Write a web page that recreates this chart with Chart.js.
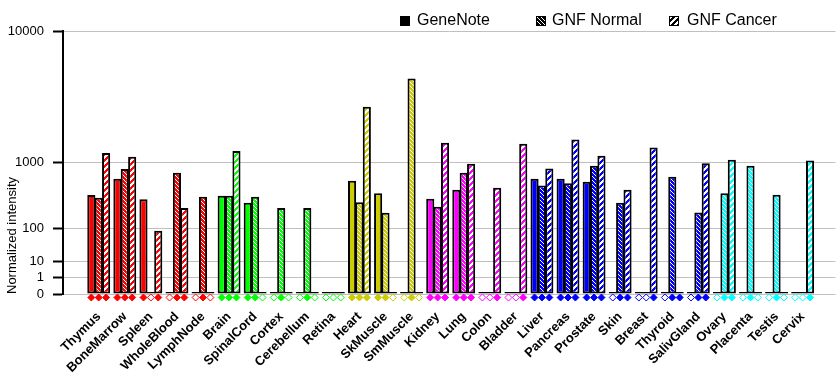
<!DOCTYPE html>
<html>
<head>
<meta charset="utf-8">
<script src="https://cdn.jsdelivr.net/npm/chart.js@4.4.1/dist/chart.umd.min.js"></script>
<style>
  body { margin: 0; background: #fff; }
  #wrap { width: 840px; height: 385px; }
</style>
</head>
<body>
<div id="wrap"><canvas id="chart"></canvas></div>
<script>
const tissues = ['Thymus', 'BoneMarrow', 'Spleen', 'WholeBlood', 'LymphNode',
  'Brain', 'SpinalCord', 'Cortex', 'Cerebellum', 'Retina',
  'Heart', 'SkMuscle', 'SmMuscle',
  'Kidney', 'Lung', 'Colon', 'Bladder',
  'Liver', 'Pancreas', 'Prostate', 'Skin', 'Breast', 'Thyroid', 'SalivGland',
  'Ovary', 'Placenta', 'Testis', 'Cervix'];

const RED = '#ff0000', GREEN = '#00ff00', OLIVE = '#cccc00',
  MAGENTA = '#ff00ff', BLUE = '#0000ff', CYAN = '#00ffff';
const tissueColors = [RED, RED, RED, RED, RED,
  GREEN, GREEN, GREEN, GREEN, GREEN,
  OLIVE, OLIVE, OLIVE,
  MAGENTA, MAGENTA, MAGENTA, MAGENTA,
  BLUE, BLUE, BLUE, BLUE, BLUE, BLUE, BLUE,
  CYAN, CYAN, CYAN, CYAN];

const geneNote  = [390, 646, 336, 0, 0, 380, 296, 0, 0, 0, 609, 412, 0, 343, 463, 0, 0, 646, 646, 590, 0, 0, 0, 0, 0, 0, 0, 0];
const gnfNormal = [355, 847, 0, 762, 368, 380, 368, 244, 244, 0, 302, 202, 5150, 257, 762, 0, 0, 526, 564, 920, 296, 0, 685, 204, 412, 920, 394, 0];
const gnfCancer = [1260, 1150, 88, 244, 0, 1320, 0, 0, 0, 0, 3230, 0, 0, 1590, 970, 492, 1555, 855, 1705, 1180, 463, 1435, 0, 980, 1070, 0, 0, 1050];

// present calls shown as filled diamonds under each bar
const geneNoteCall  = [1, 1, 1, 0, 0, 1, 1, 0, 0, 0, 1, 1, 0, 1, 1, 0, 0, 1, 1, 1, 0, 0, 0, 0, 0, 0, 0, 0];
const gnfNormalCall = [1, 1, 0, 1, 1, 1, 1, 1, 1, 0, 1, 1, 1, 1, 1, 0, 0, 1, 1, 1, 1, 0, 1, 1, 1, 1, 1, 0];
const gnfCancerCall = [1, 1, 1, 1, 0, 1, 0, 0, 0, 0, 1, 0, 0, 1, 1, 1, 1, 1, 1, 1, 1, 1, 1, 1, 1, 0, 0, 1];

const yTicks = [0, 1, 10, 100, 1000, 10000];

// y axis: each decade doubles the height (power scale, exponent log10(2))
const EXP = Math.log10(2);
const fwd = v => Math.sign(v) * Math.pow(Math.abs(v), EXP);
const inv = u => Math.sign(u) * Math.pow(Math.abs(u), 1 / EXP);

class PowerScale extends Chart.LinearScale {
  buildTicks() {
    return yTicks.map(v => ({ value: v }));
  }
  configure() {
    super.configure();
    this._pStart = fwd(this.min);
    this._pRange = fwd(this.max) - this._pStart;
  }
  getPixelForValue(v) {
    return this.getPixelForDecimal((fwd(v) - this._pStart) / this._pRange);
  }
  getValueForPixel(p) {
    return inv(this._pStart + this.getDecimalForPixel(p) * this._pRange);
  }
}
PowerScale.id = 'power';
Chart.register(PowerScale);

const canvas = document.getElementById('chart');
const ctx = canvas.getContext('2d');

function hatch(color, kind) {
  const n = kind === 'normal' ? 4 : 6;
  const tile = document.createElement('canvas');
  tile.width = tile.height = n;
  const g = tile.getContext('2d');
  g.fillStyle = kind === 'normal' ? color : '#fff';
  g.fillRect(0, 0, n, n);
  g.fillStyle = kind === 'normal' ? '#fff' : color;
  for (let y = 0; y < n; y++) {
    if (kind === 'normal') {
      g.fillRect(y, y, 1, 1);
    } else {
      for (let k = 0; k < 3; k++) g.fillRect((n - 1 - y + k) % n, y, 1, 1);
    }
  }
  return ctx.createPattern(tile, 'repeat');
}

const catPct = 0.85;

function barSet(label, values, fills) {
  return {
    type: 'bar',
    label: label,
    data: values.map((v, i) => ({ x: i, y: v })),
    backgroundColor: fills,
    borderColor: '#000',
    borderWidth: 2,
    borderSkipped: false,
    minBarLength: 2,
    categoryPercentage: catPct,
    barPercentage: 1.1,
    clip: false
  };
}

function markSet(calls, k) {
  const off = (k - 1) * catPct / 3;
  return {
    type: 'scatter',
    yAxisID: 'ym',
    data: calls.map((c, i) => ({ x: i + off, y: -1 })),
    pointStyle: 'rectRot',
    pointRadius: 3.5,
    pointHoverRadius: 3.5,
    backgroundColor: calls.map((c, i) => c ? tissueColors[i] : '#fff'),
    borderColor: tissueColors,
    borderWidth: 1,
    clip: false
  };
}

const legendItems = [
  { text: 'GeneNote', box: 400, tx: 417, fill: '#000' },
  { text: 'GNF Normal', box: 536, tx: 552, fill: hatch('#000', 'normal') },
  { text: 'GNF Cancer', box: 669, tx: 687, fill: hatch('#000', 'cancer') }
];

const topLegend = {
  id: 'topLegend',
  afterDraw(chart) {
    const c = chart.ctx;
    c.save();
    c.font = '16px "Liberation Sans", Arial, sans-serif';
    c.textBaseline = 'middle';
    legendItems.forEach(it => {
      c.fillStyle = it.fill;
      c.fillRect(it.box, 16, 10, 10);
      c.strokeStyle = '#000';
      c.lineWidth = 1;
      c.strokeRect(it.box + 0.5, 16.5, 9, 9);
      c.fillStyle = '#000';
      c.fillText(it.text, it.tx, 21);
    });
    c.restore();
  }
};

Chart.defaults.font.family = '"Liberation Sans", Arial, sans-serif';
Chart.defaults.color = '#000';

new Chart(ctx, {
  type: 'bar',
  data: {
    datasets: [
      barSet('GeneNote', geneNote, tissueColors),
      barSet('GNF Normal', gnfNormal, tissueColors.map(c => hatch(c, 'normal'))),
      barSet('GNF Cancer', gnfCancer, tissueColors.map(c => hatch(c, 'cancer'))),
      markSet(geneNoteCall, 0),
      markSet(gnfNormalCall, 1),
      markSet(gnfCancerCall, 2)
    ]
  },
  options: {
    responsive: true,
    maintainAspectRatio: false,
    animation: false,
    layout: { padding: { top: 31, left: 0, right: 0, bottom: 0 } },
    plugins: {
      legend: { display: false },
      tooltip: { enabled: false }
    },
    scales: {
      x: {
        type: 'linear',
        min: -1.37,
        max: 28.26,
        offset: false,
        afterBuildTicks: s => { s.ticks = tissues.map((t, i) => ({ value: i })); },
        afterFit: s => { s.height = 91; },
        ticks: {
          callback: v => tissues[v],
          autoSkip: false,
          minRotation: 45,
          maxRotation: 45,
          padding: 15,
          color: '#000',
          font: { size: 13, weight: 'bold' }
        },
        grid: { display: false, drawTicks: false, offset: false },
        border: { display: false }
      },
      y: {
        type: 'power',
        min: 0,
        max: 10000,
        afterFit: s => { s.width = 63; },
        ticks: { callback: v => String(v), padding: 9, color: '#000', font: { size: 13 } },
        grid: { color: '#c0c0c0', tickColor: '#000', tickLength: 10, tickWidth: 2 },
        border: { color: '#000', width: 2 },
        title: {
          display: true,
          text: 'Normalized intensity',
          align: 'start',
          color: '#000',
          font: { size: 13 },
          padding: { top: 5, bottom: 0 }
        }
      },
      ym: { type: 'linear', display: false, min: 0, max: 75 }
    }
  },
  plugins: [topLegend]
});
</script>
</body>
</html>
